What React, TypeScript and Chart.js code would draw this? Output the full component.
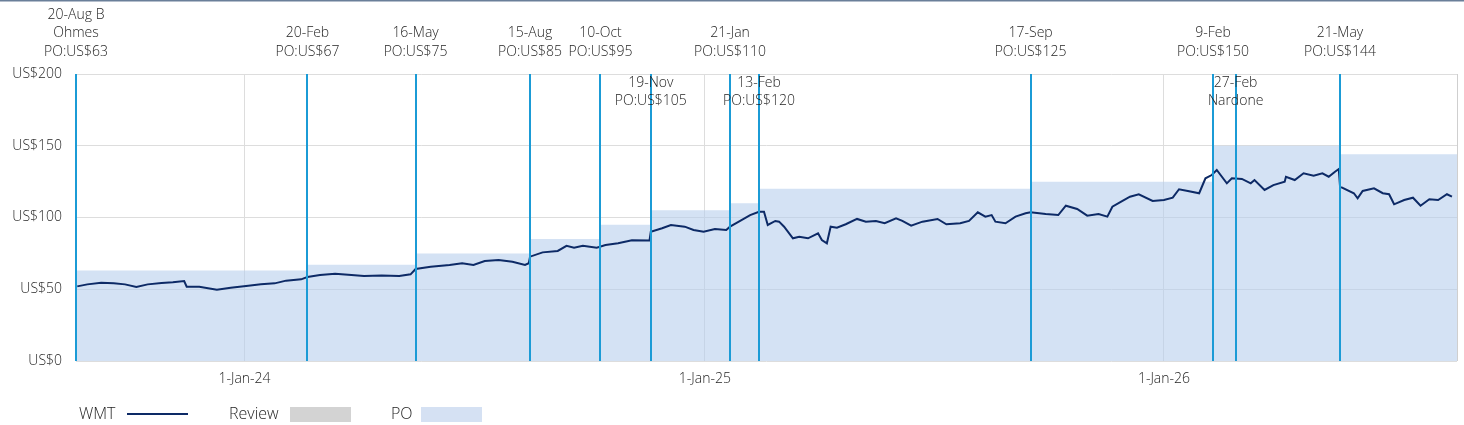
import React, { useEffect, useRef } from "react";
import { Chart, registerables } from "chart.js";

Chart.register(...registerables);

const X_START = "2023-08-20";
const X_END = "2026-08-22";
const X_TICK_DATES = ["2024-01-01", "2025-01-01", "2026-01-01"];
const X_TICK_LABELS = ["1-Jan-24", "1-Jan-25", "1-Jan-26"];
const Y_TICKS = [0, 50, 100, 150, 200];

const WMT_DATES = [
  "2023-08-21", "2023-08-29", "2023-09-09", "2023-09-19", "2023-09-28", "2023-10-07", "2023-10-16",
  "2023-10-27", "2023-11-05", "2023-11-14", "2023-11-16", "2023-11-26", "2023-12-10", "2023-12-21",
  "2024-01-04", "2024-01-14", "2024-01-25", "2024-02-03", "2024-02-15", "2024-02-20", "2024-03-01",
  "2024-03-13", "2024-03-26", "2024-04-05", "2024-04-19", "2024-05-03", "2024-05-12", "2024-05-16",
  "2024-05-28", "2024-06-12", "2024-06-22", "2024-07-01", "2024-07-10", "2024-07-21", "2024-08-01",
  "2024-08-11", "2024-08-14", "2024-08-15", "2024-08-25", "2024-09-06", "2024-09-13", "2024-09-19",
  "2024-09-26", "2024-10-07", "2024-10-14", "2024-10-24", "2024-11-04", "2024-11-18", "2024-11-19",
  "2024-11-28", "2024-12-05", "2024-12-16", "2024-12-23", "2024-12-31", "2025-01-09", "2025-01-18",
  "2025-01-21", "2025-01-28", "2025-02-06", "2025-02-13", "2025-02-17", "2025-02-20", "2025-02-26",
  "2025-03-01", "2025-03-05", "2025-03-12", "2025-03-17", "2025-03-24", "2025-04-01", "2025-04-04",
  "2025-04-08", "2025-04-11", "2025-04-16", "2025-04-23", "2025-05-02", "2025-05-09", "2025-05-17",
  "2025-05-24", "2025-06-02", "2025-06-07", "2025-06-14", "2025-06-23", "2025-07-05", "2025-07-12",
  "2025-07-23", "2025-07-30", "2025-08-06", "2025-08-12", "2025-08-17", "2025-08-20", "2025-08-28",
  "2025-09-05", "2025-09-13", "2025-09-17", "2025-09-29", "2025-10-09", "2025-10-15", "2025-10-24",
  "2025-11-01", "2025-11-10", "2025-11-17", "2025-11-21", "2025-11-28", "2025-12-05", "2025-12-12",
  "2025-12-23", "2026-01-01", "2026-01-08", "2026-01-13", "2026-01-20", "2026-01-29", "2026-02-03",
  "2026-02-08", "2026-02-12", "2026-02-20", "2026-02-24", "2026-03-04", "2026-03-11", "2026-03-14",
  "2026-03-22", "2026-03-29", "2026-04-07", "2026-04-08", "2026-04-15", "2026-04-22", "2026-04-30",
  "2026-05-07", "2026-05-12", "2026-05-17", "2026-05-20", "2026-05-21", "2026-06-01", "2026-06-04",
  "2026-06-08", "2026-06-17", "2026-06-24", "2026-06-29", "2026-07-03", "2026-07-11", "2026-07-18",
  "2026-07-24", "2026-07-31", "2026-08-07", "2026-08-14", "2026-08-18",
];
const WMT_PRICES = [
  52.0, 53.4, 54.6, 54.1, 53.4, 51.6, 53.4,
  54.4, 54.8, 55.7, 51.8, 51.8, 49.7, 51.1,
  52.5, 53.4, 54.1, 56.0, 56.9, 58.5, 59.9,
  60.8, 59.9, 59.2, 59.5, 59.2, 60.4, 64.1,
  65.7, 66.9, 68.1, 66.9, 69.7, 70.4, 69.2,
  66.9, 68.1, 72.7, 75.7, 76.7, 80.3, 79.0,
  80.3, 79.0, 80.8, 82.0, 84.1, 84.0, 90.1,
  92.5, 94.8, 93.6, 91.3, 90.1, 92.0, 91.3,
  93.6, 97.1, 101.7, 104.0, 104.0, 94.8, 97.6,
  97.1, 93.6, 85.5, 86.6, 85.5, 89.0, 84.3,
  82.0, 93.6, 92.9, 95.3, 99.0, 97.1, 97.6,
  96.0, 99.4, 97.6, 94.3, 97.1, 99.0, 95.3,
  96.0, 97.6, 103.6, 100.6, 101.7, 97.1, 96.0,
  100.6, 102.9, 103.6, 102.4, 101.7, 108.2, 105.9,
  101.3, 102.4, 100.6, 107.5, 111.0, 114.5, 116.2,
  111.5, 112.2, 113.8, 119.7, 118.5, 116.9, 127.3,
  129.6, 133.1, 123.8, 127.3, 126.9, 123.8, 126.1,
  119.2, 122.6, 124.9, 128.4, 126.1, 130.8, 129.1,
  130.8, 128.4, 131.9, 133.8, 121.5, 116.9, 113.4,
  118.5, 120.3, 116.9, 116.2, 109.2, 112.2, 113.8,
  108.2, 112.7, 112.2, 116.2, 114.5,
];

const PO_DATES = [
  "2023-08-20", "2024-02-20", "2024-05-16", "2024-08-15", "2024-10-10", "2024-11-19",
  "2025-01-21", "2025-02-13", "2025-09-17", "2026-02-09", "2026-05-21", "2026-08-22",
];
const PO_VALUES = [63, 67, 75, 85, 95, 105, 110, 120, 125, 150, 144, 144];

const EVENT_DATES = [
  "2023-08-20", "2024-02-20", "2024-05-16", "2024-08-15", "2024-10-10", "2024-11-19",
  "2025-01-21", "2025-02-13", "2025-09-17", "2026-02-09", "2026-02-27", "2026-05-21",
];
const EVENT_LABELS = [
  ["20-Aug B", "Ohmes", "PO:US$63"],
  ["20-Feb", "PO:US$67"],
  ["16-May", "PO:US$75"],
  ["15-Aug", "PO:US$85"],
  ["10-Oct", "PO:US$95"],
  ["19-Nov", "PO:US$105"],
  ["21-Jan", "PO:US$110"],
  ["13-Feb", "PO:US$120"],
  ["17-Sep", "PO:US$125"],
  ["9-Feb", "PO:US$150"],
  ["27-Feb", "Nardone"],
  ["21-May", "PO:US$144"],
];
const EVENT_INSIDE = [false, false, false, false, false, true, false, true, false, false, true, false];

const LEGEND_ITEMS = ["WMT", "Review", "PO"];

const FONT = '"Open Sans", "Noto Sans", sans-serif';
const TEXT_COLOR = "#1f1f1f";
const NAVY = "#0d2a66";
const EVENT_BLUE = "#1b9bd6";
const PO_FILL = "rgba(184, 206, 236, 0.6)";
const PO_SWATCH = "#d5e1f3";
const REVIEW_SWATCH = "#d3d3d3";
const GRID = "#dddddd";

function day(s: string): number {
  const [y, m, d] = s.split("-").map(Number);
  const [y0, m0, d0] = X_START.split("-").map(Number);
  return (Date.UTC(y, m - 1, d) - Date.UTC(y0, m0 - 1, d0)) / 86400000;
}

const overlayPlugin = {
  id: "overlay",
  afterDatasetsDraw(chart: any) {
    const { ctx, chartArea } = chart;
    const xs = chart.scales.x;
    ctx.save();
    ctx.strokeStyle = "#cfcfcf";
    ctx.lineWidth = 1;
    ctx.beginPath();
    ctx.moveTo(chartArea.right + 0.5, chartArea.top);
    ctx.lineTo(chartArea.right + 0.5, chartArea.bottom);
    ctx.stroke();
    ctx.strokeStyle = EVENT_BLUE;
    ctx.lineWidth = 2;
    EVENT_DATES.forEach((d) => {
      const x = Math.round(xs.getPixelForValue(day(d)));
      ctx.beginPath();
      ctx.moveTo(x, chartArea.top);
      ctx.lineTo(x, chartArea.bottom);
      ctx.stroke();
    });
    ctx.fillStyle = TEXT_COLOR;
    ctx.font = `300 14px ${FONT}`;
    ctx.textAlign = "center";
    ctx.textBaseline = "middle";
    const lh = 18.5;
    EVENT_DATES.forEach((d, i) => {
      const x = xs.getPixelForValue(day(d));
      const lines = EVENT_LABELS[i];
      if (EVENT_INSIDE[i]) {
        lines.forEach((t, j) => ctx.fillText(t, x, chartArea.top + 9 + j * lh));
      } else {
        const lastY = chartArea.top - 22;
        lines.forEach((t, j) => ctx.fillText(t, x, lastY - (lines.length - 1 - j) * lh));
      }
    });
    ctx.restore();
  },
  afterDraw(chart: any) {
    const { ctx } = chart;
    ctx.save();
    ctx.fillStyle = "#6a7f99";
    ctx.fillRect(0, 0, chart.width, 1.5);
    const y = 414;
    ctx.font = `300 16px ${FONT}`;
    ctx.textBaseline = "middle";
    ctx.textAlign = "left";
    ctx.fillStyle = TEXT_COLOR;
    ctx.fillText(LEGEND_ITEMS[0], 79, y);
    ctx.strokeStyle = NAVY;
    ctx.lineWidth = 2;
    ctx.beginPath();
    ctx.moveTo(127, y);
    ctx.lineTo(188, y);
    ctx.stroke();
    ctx.fillText(LEGEND_ITEMS[1], 229, y);
    ctx.fillStyle = REVIEW_SWATCH;
    ctx.fillRect(290, 407, 61, 15);
    ctx.fillStyle = TEXT_COLOR;
    ctx.fillText(LEGEND_ITEMS[2], 391, y);
    ctx.fillStyle = PO_SWATCH;
    ctx.fillRect(421, 407, 61, 15);
    ctx.restore();
  },
};

export default function App() {
  const ref = useRef<HTMLCanvasElement | null>(null);

  useEffect(() => {
    if (!ref.current) return;
    const chart = new Chart(ref.current, {
      type: "line",
      data: {
        datasets: [
          {
            label: "WMT",
            data: WMT_DATES.map((d, i) => ({ x: day(d), y: WMT_PRICES[i] })),
            borderColor: NAVY,
            borderWidth: 2,
            pointRadius: 0,
            tension: 0,
            fill: false,
          },
          {
            label: "PO",
            data: PO_DATES.map((d, i) => ({ x: day(d), y: PO_VALUES[i] })),
            stepped: "before",
            borderWidth: 0,
            borderColor: "rgba(0,0,0,0)",
            backgroundColor: PO_FILL,
            fill: "origin",
            pointRadius: 0,
          },
        ],
      },
      options: {
        animation: false,
        responsive: false,
        maintainAspectRatio: false,
        layout: { padding: { left: 0, right: 7, top: 74, bottom: 0 } },
        plugins: { legend: { display: false }, tooltip: { enabled: false } },
        scales: {
          x: {
            type: "linear",
            min: day(X_START),
            max: day(X_END),
            afterBuildTicks: (s: any) => {
              s.ticks = X_TICK_DATES.map((d) => ({ value: day(d) }));
            },
            afterFit: (s: any) => {
              s.height = 64;
            },
            ticks: {
              autoSkip: false,
              maxRotation: 0,
              padding: 10,
              color: TEXT_COLOR,
              font: { family: FONT, size: 14, weight: "300" },
              callback: (v: any) => {
                const idx = X_TICK_DATES.findIndex((d) => day(d) === v);
                return idx >= 0 ? X_TICK_LABELS[idx] : "";
              },
            },
            grid: { color: GRID, drawTicks: false, lineWidth: 1 },
            border: { display: false },
          },
          y: {
            min: 0,
            max: 200,
            afterBuildTicks: (s: any) => {
              s.ticks = Y_TICKS.map((v) => ({ value: v }));
            },
            afterFit: (s: any) => {
              s.width = 76;
            },
            ticks: {
              padding: 14,
              color: TEXT_COLOR,
              font: { family: FONT, size: 14, weight: "300" },
              callback: (v: any) => `US$${v}`,
            },
            grid: { color: GRID, drawTicks: false, lineWidth: 1 },
            border: { display: false },
          },
        },
      },
      plugins: [overlayPlugin],
    } as any);
    return () => chart.destroy();
  }, []);

  return (
    <div style={{ position: "fixed", left: 0, top: 0, width: 1464, height: 425, background: "#fff" }}>
      <canvas ref={ref} width={1464} height={425} style={{ display: "block", width: 1464, height: 425 }} />
    </div>
  );
}
